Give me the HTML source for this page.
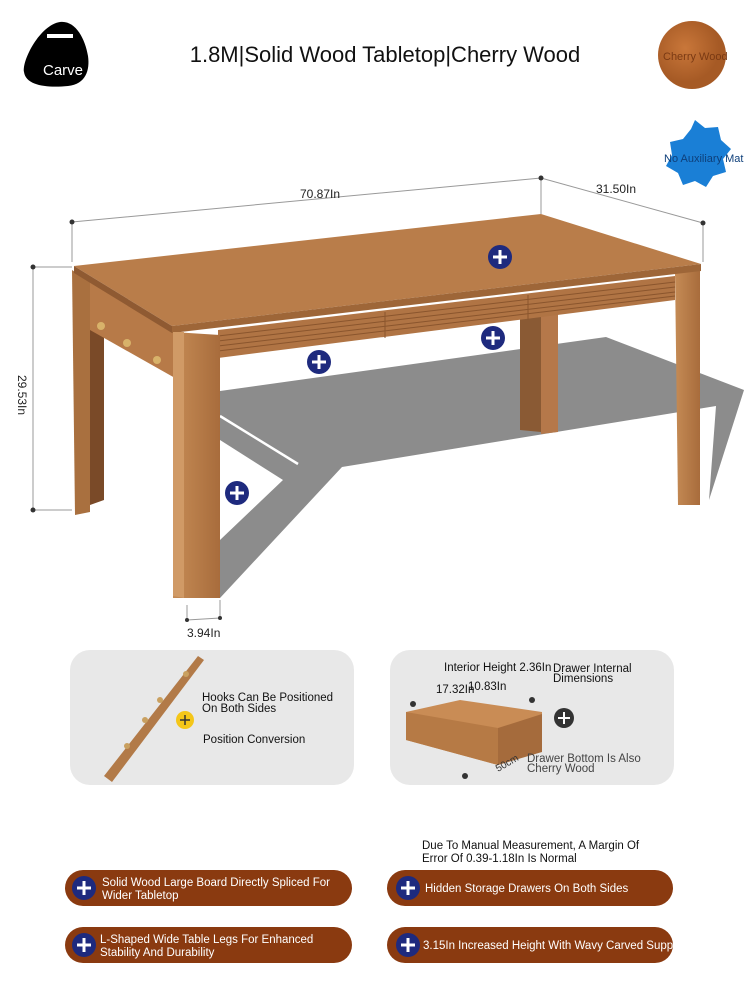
<!DOCTYPE html>
<html><head><meta charset="utf-8"><style>
body{margin:0;width:750px;height:1000px;background:#fff;overflow:hidden;font-family:"Liberation Sans",sans-serif}
svg{position:absolute;left:0;top:0}
text{font-family:"Liberation Sans",sans-serif}
</style></head><body>
<svg width="750" height="1000" viewBox="0 0 750 1000">
<defs>
<linearGradient id="wood" x1="0" x2="1"><stop offset="0" stop-color="#c58b55"/><stop offset="1" stop-color="#a86c3c"/></linearGradient>
<radialGradient id="cw" cx="0.4" cy="0.4"><stop offset="0" stop-color="#c9773a"/><stop offset="1" stop-color="#a65a25"/></radialGradient>
<g id="plus"><circle r="12" fill="#1e2a7e"/><path d="M-7 0H7M0 -7V7" stroke="#fff" stroke-width="3"/></g>
</defs>
<!-- header -->
<path d="M60 22 C40 25 22 60 24 72 C26 86 48 88 68 86 C86 84 90 70 88 56 C85 38 75 20 60 22Z" fill="#000"/>
<rect x="47" y="34" width="26" height="4" fill="#fff"/>
<text x="43" y="75" font-size="15" fill="#fff">Carve</text>
<text x="385" y="62" font-size="22" text-anchor="middle" fill="#111">1.8M|Solid Wood Tabletop|Cherry Wood</text>
<ellipse cx="692" cy="55" rx="34" ry="34" fill="url(#cw)"/>
<text x="663" y="60" font-size="11" fill="#7a3a14">Cherry Wood</text>
<path d="M695 120 l10 8 13 -1 3 13 10 9 -8 10 3 13 -13 4 -7 11 -11 -6 -12 4 -5 -12 -12 -7 6 -11 -2 -13 13 -3 8 -10Z" fill="#1a7fd6"/>
<text x="664" y="162" font-size="11" fill="#0e3f7a">No Auxiliary Mat</text>
<!-- shadow -->
<polygon points="220,391 606,337 744,390 709,500 716,406 342,467 220,598 220,540 283,480 220,440" fill="#8c8c8c"/>
<path d="M220 416 L298 464" stroke="#fff" stroke-width="2.5"/>
<!-- dimension lines -->
<g stroke="#999" stroke-width="1" fill="none">
<path d="M72 222 L541 178 L703 223"/><path d="M72 222V262M541 178V214M703 223V262"/>
<path d="M33 267V510M33 267H72M33 510H72"/><path d="M187 620 L220 618M187 605V620M220 600V618"/>
</g>
<g fill="#333"><circle cx="72" cy="222" r="2.5"/><circle cx="541" cy="178" r="2.5"/><circle cx="703" cy="223" r="2.5"/><circle cx="33" cy="267" r="2.5"/><circle cx="33" cy="510" r="2.5"/><circle cx="187" cy="620" r="2"/><circle cx="220" cy="618" r="2"/></g>
<text x="300" y="198" font-size="12" fill="#222">70.87In</text>
<text x="596" y="193" font-size="12" fill="#222">31.50In</text>
<text x="187" y="637" font-size="12" fill="#222">3.94In</text>
<text x="0" y="0" font-size="12" fill="#222" transform="translate(18,375) rotate(90)">29.53In</text>
<!-- legs back -->
<polygon points="520,312 541,310 541,432 520,430" fill="#8a5a34"/>
<polygon points="541,310 558,308 558,432 541,434" fill="#b5784a"/>
<polygon points="72,270 90,282 90,512 75,515" fill="#a9703f"/>
<polygon points="90,282 104,290 104,500 90,505" fill="#7a4a28"/>
<polygon points="675,272 700,268 700,505 678,505" fill="url(#wood)"/>
<!-- side apron -->
<polygon points="90,282 175,330 175,378 90,330" fill="#b77a48"/>
<circle cx="101" cy="326" r="4" fill="#d8b26a"/><circle cx="127" cy="343" r="4" fill="#d8b26a"/><circle cx="157" cy="360" r="4" fill="#d8b26a"/>
<!-- front apron with grooves -->
<polygon points="218,330 675,276 675,300 218,358" fill="#b07444"/>
<g stroke="#8a552d" stroke-width="1"><path d="M218 336 L675 282M218 341 L675 287M218 346 L675 292M218 351 L675 296"/><path d="M385 312V338M528 295V320"/></g>
<!-- tabletop -->
<polygon points="74,266 541,214 701,264 172,326" fill="#b97d4a"/>
<polygon points="74,266 172,326 172,333 74,273" fill="#8f5a32"/>
<polygon points="172,326 701,264 701,271 172,333" fill="#9e6638"/>
<!-- front leg -->
<polygon points="173,332 220,335 220,598 173,598" fill="url(#wood)"/>
<polygon points="173,332 184,332 184,598 173,596" fill="#d09a66"/>
<use href="#plus" x="500" y="257"/><use href="#plus" x="319" y="362"/><use href="#plus" x="493" y="338"/><use href="#plus" x="237" y="493"/>
<!-- panels -->
<rect x="70" y="650" width="284" height="135" rx="20" fill="#e8e8e8"/>
<rect x="390" y="650" width="284" height="135" rx="20" fill="#e8e8e8"/>
<polygon points="198,656 204,660 112,782 104,776" fill="#b27a48"/>
<circle cx="160" cy="700" r="3" fill="#c9a060"/><circle cx="145" cy="720" r="3" fill="#c9a060"/><circle cx="127" cy="746" r="3" fill="#c9a060"/><circle cx="186" cy="674" r="3" fill="#c9a060"/>
<circle cx="185" cy="720" r="9" fill="#f4c619"/><path d="M180 720H190M185 715V725" stroke="#333" stroke-width="1.5"/>
<text font-size="11.5" fill="#111"><tspan x="202" y="701">Hooks Can Be Positioned</tspan><tspan x="202" y="712">On Both Sides</tspan><tspan x="203" y="743">Position Conversion</tspan></text>
<polygon points="406,712 460,700 542,712 542,722 498,765 406,740" fill="#c98c55"/>
<polygon points="406,712 498,728 498,765 406,740" fill="#b67a45"/>
<polygon points="498,728 542,714 542,752 498,765" fill="#a56b3c"/>
<circle cx="413" cy="704" r="3" fill="#333"/><circle cx="532" cy="700" r="3" fill="#333"/><circle cx="465" cy="776" r="3" fill="#333"/>
<circle cx="564" cy="718" r="10" fill="#333"/><path d="M558 718H570M564 712V724" stroke="#fff" stroke-width="2"/>
<text font-size="11.5" fill="#111"><tspan x="444" y="671">Interior Height 2.36In</tspan><tspan x="553" y="672">Drawer Internal</tspan><tspan x="553" y="682">Dimensions</tspan><tspan x="436" y="693">17.32In</tspan><tspan x="468" y="690">10.83In</tspan></text>
<text font-size="11.5" fill="#444"><tspan x="527" y="762">Drawer Bottom Is Also</tspan><tspan x="527" y="772">Cherry Wood</tspan></text>
<text x="498" y="772" font-size="10" fill="#333" transform="rotate(-30 498 772)">50cm</text>
<text font-size="11.5" fill="#111"><tspan x="422" y="849">Due To Manual Measurement, A Margin Of</tspan><tspan x="422" y="862">Error Of 0.39-1.18In Is Normal</tspan></text>
<!-- pills -->
<g fill="#8a3a10"><rect x="65" y="870" width="287" height="36" rx="18"/><rect x="387" y="870" width="286" height="36" rx="18"/><rect x="65" y="927" width="287" height="36" rx="18"/><rect x="387" y="927" width="286" height="36" rx="18"/></g>
<use href="#plus" x="84" y="888"/><use href="#plus" x="408" y="888"/><use href="#plus" x="84" y="945"/><use href="#plus" x="408" y="945"/>
<text font-size="11.5" fill="#fff"><tspan x="102" y="886">Solid Wood Large Board Directly Spliced For</tspan><tspan x="102" y="899">Wider Tabletop</tspan>
<tspan x="425" y="892">Hidden Storage Drawers On Both Sides</tspan>
<tspan x="100" y="943">L-Shaped Wide Table Legs For Enhanced</tspan><tspan x="100" y="956">Stability And Durability</tspan>
<tspan x="423" y="949">3.15In Increased Height With Wavy Carved Support</tspan></text>
</svg>
</body></html>
